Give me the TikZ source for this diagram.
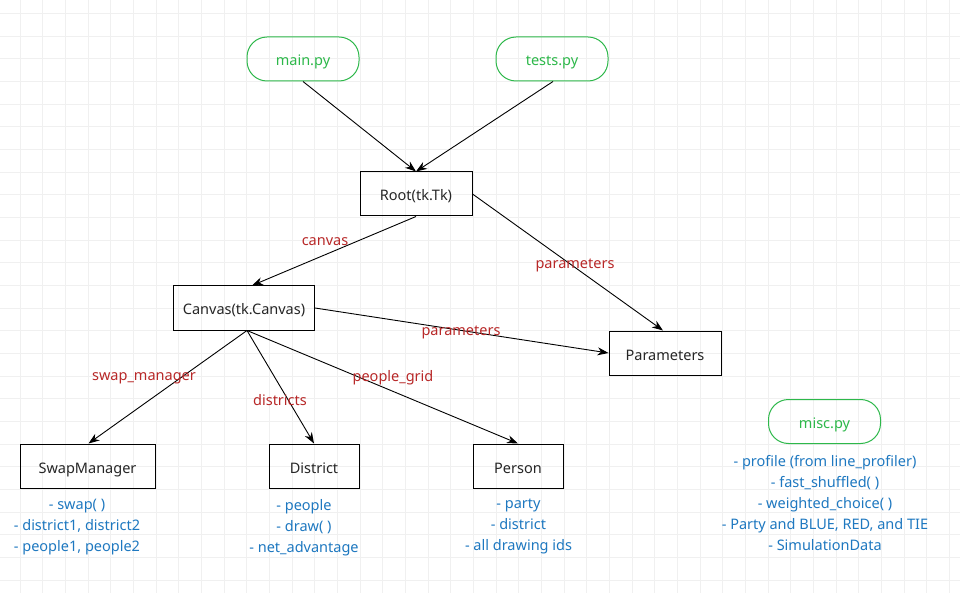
\documentclass[tikz,border=0pt]{standalone}
\usepackage{fontspec}
\setmainfont{Noto Sans}
\usetikzlibrary{arrows.meta}
\definecolor{gridc}{HTML}{F0F0F0}
\definecolor{fgreen}{HTML}{2DB84A}
\definecolor{lred}{HTML}{B82828}
\definecolor{lblue}{HTML}{1E78C0}
\begin{document}
\begin{tikzpicture}[x=1pt,y=-1pt,
  txt/.style={font=\fontsize{14.5}{17}\selectfont},
  box/.style={txt,draw=black,line width=1pt,minimum height=44pt,inner sep=0pt,text height=14pt,text depth=0pt,text=black!85},
  pill/.style={txt,draw=fgreen,line width=1pt,rounded corners=20pt,minimum width=112pt,minimum height=44pt,inner sep=0pt,text height=14pt,text depth=0pt,text=fgreen},
  lbl/.style={txt,text=lred,inner sep=1pt},
  lst/.style={font=\fontsize{14.5}{21}\selectfont,text=lblue,align=center,inner sep=0pt},
  arr/.style={-{Stealth[length=11pt,width=8pt,inset=3.5pt]},line width=0.9pt,black}]
\fill[white] (0,0) rectangle (960,593);
\useasboundingbox (0,0) rectangle (960,593);
\foreach \i in {0,...,41} {\draw[gridc,line width=0.8pt] ({20+\i*22.667},0) -- ({20+\i*22.667},593);}
\foreach \j in {0,...,25} {\draw[gridc,line width=0.8pt] (0,{13.333+\j*22.667}) -- (960,{13.333+\j*22.667});}

\node[pill] (main) at (303,59) {main.py};
\node[pill] (tests) at (552,59) {tests.py};
\node[pill] (misc) at (824.5,421.5) {misc.py};
\node[box,minimum width=112pt] (root) at (416,194) {Root(tk.Tk)};
\node[box,minimum width=141pt] (canvas) at (244,308) {Canvas(tk.Canvas)};
\node[box,minimum width=112pt] (params) at (665,353) {Parameters};
\node[box,minimum width=135pt] (swap) at (87.5,466) {SwapManager};
\node[box,minimum width=90pt] (district) at (314,466) {District};
\node[box,minimum width=90pt] (person) at (518,466) {Person};

\draw[arr] (main.south) -- (root.north);
\draw[arr] ([xshift=1pt]tests.south) -- (root.north);
\draw[arr] (root.south) -- ([xshift=8pt]canvas.north);
\draw[arr] (root.east) -- ([xshift=-2pt]params.north);
\draw[arr] (canvas.east) -- (params.west);
\draw[arr] ([xshift=3pt]canvas.south) -- ([xshift=1pt]swap.north);
\draw[arr] ([xshift=3pt]canvas.south) -- (district.north);
\draw[arr] ([xshift=3pt]canvas.south) -- (person.north);

\node[lbl] (lcanvas) at (325,242) {canvas};
\node[lbl] (lparam1) at (575,265) {parameters};
\node[lbl] (lparam2) at (461,332) {parameters};
\node[lbl] (lswap) at (144,378) {swap\_manager};
\node[lbl] (ldist) at (280,400) {districts};
\node[lbl] (lpeople) at (393,378) {people\_grid};

\node[lst,anchor=north] (swapl) at (77,499) {- swap( )\\- district1, district2\\- people1, people2};
\node[lst,anchor=north] (distl) at (304,499) {- people\\- draw( )\\- net\_advantage};
\node[lst,anchor=north] (persl) at (518.5,499) {- party\\- district\\- all drawing ids};
\node[lst,anchor=north] (miscl) at (825,455) {- profile (from line\_profiler)\\- fast\_shuffled( )\\- weighted\_choice( )\\- Party and BLUE, RED, and TIE\\- SimulationData};
\end{tikzpicture}
\end{document}
